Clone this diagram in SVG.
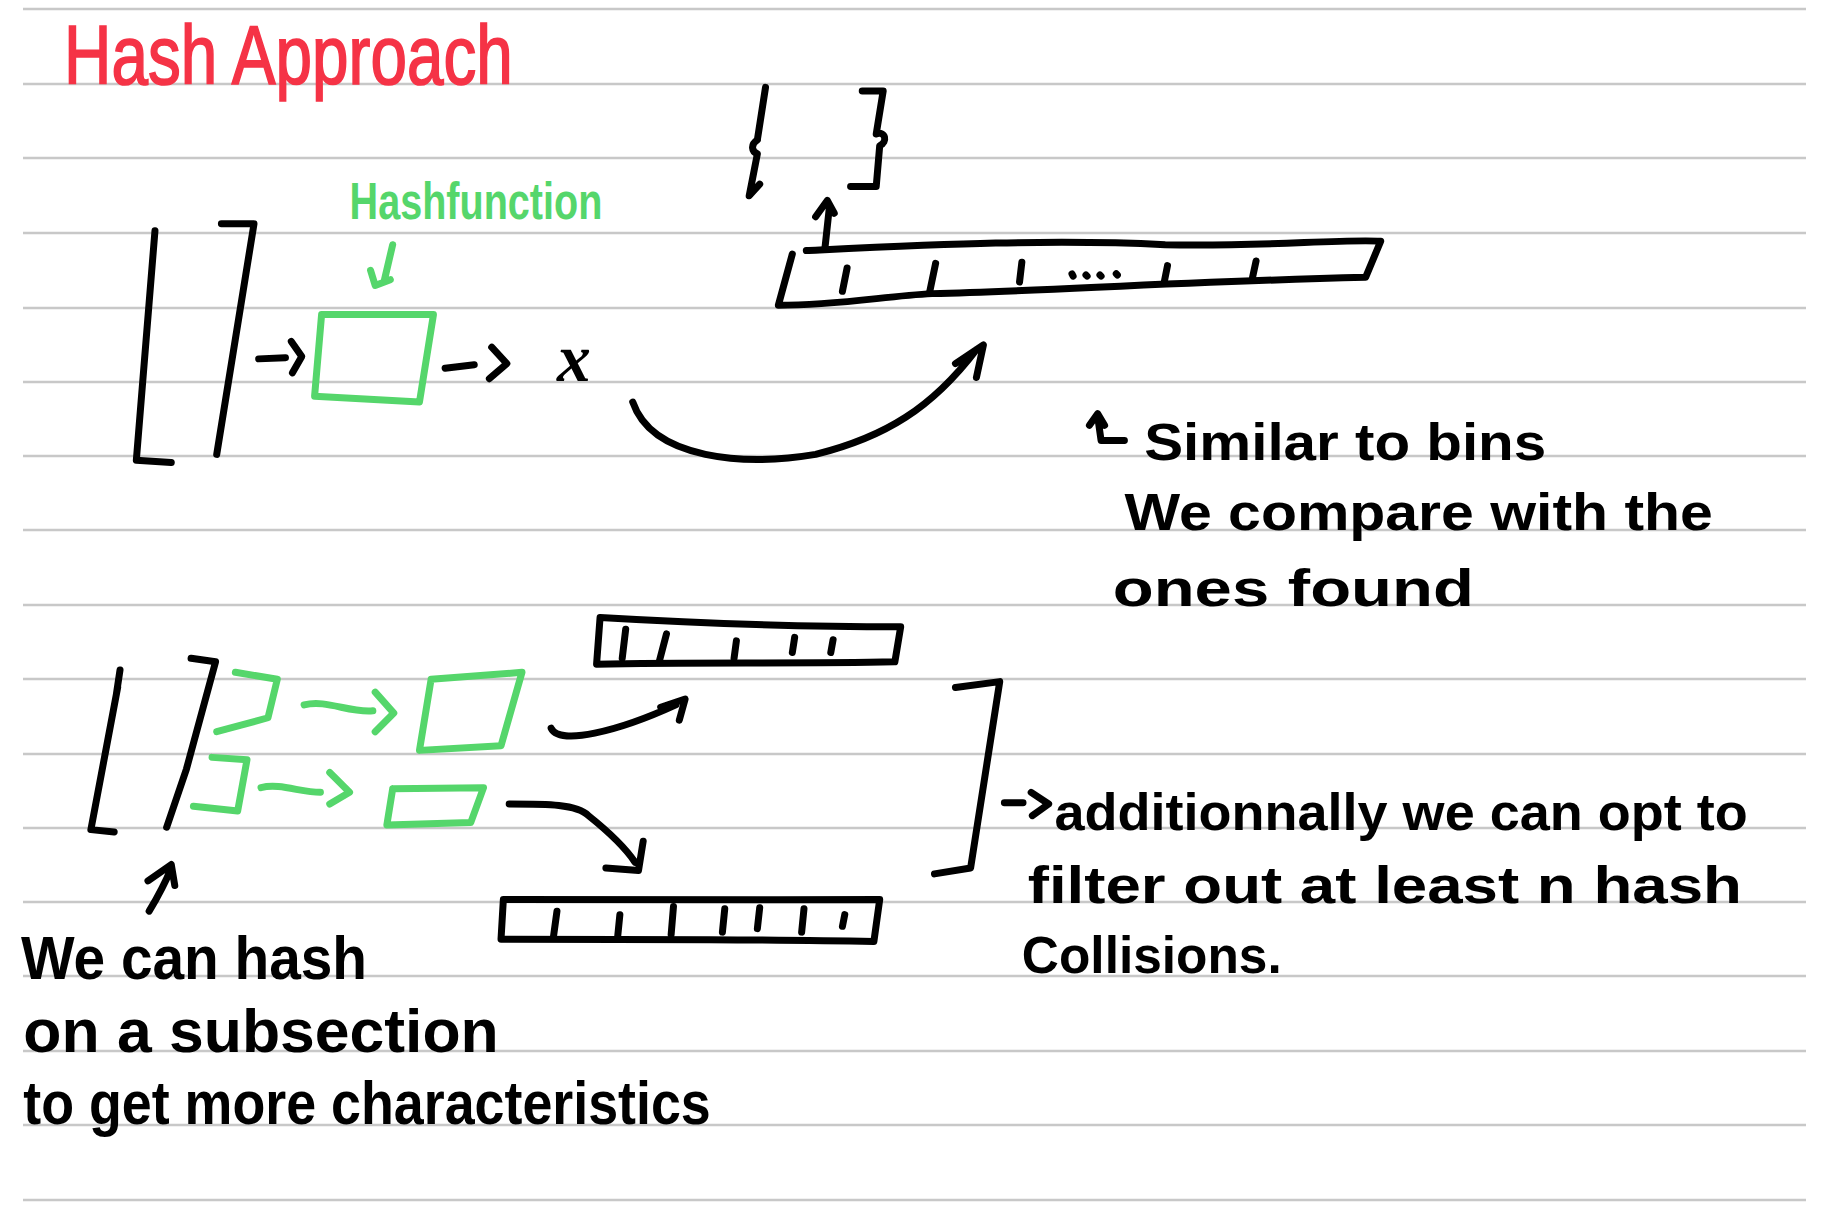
<svg xmlns="http://www.w3.org/2000/svg" width="1827" height="1231" viewBox="0 0 1827 1231">
<style>
.rule{stroke:#c8c8c8;stroke-width:2.5}
.k{fill:none;stroke:#000;stroke-width:6;stroke-linecap:round;stroke-linejoin:round}
.g{fill:none;stroke:#55d66b;stroke-width:6;stroke-linecap:round;stroke-linejoin:round}
.t{font-family:"Liberation Sans",Arial,sans-serif;font-weight:bold;fill:#000}
.tr{font-family:"Liberation Sans",Arial,sans-serif;fill:#f53346;stroke:#f53346;stroke-width:1.5}
.tg{font-family:"Liberation Sans",Arial,sans-serif;font-weight:bold;fill:#55d66b}
</style>
<rect width="1827" height="1231" fill="#fff"/>
<g id="ruled">
<line class="rule" x1="23" y1="9" x2="1806" y2="9"/>
<line class="rule" x1="23" y1="84" x2="1806" y2="84"/>
<line class="rule" x1="23" y1="158" x2="1806" y2="158"/>
<line class="rule" x1="23" y1="233" x2="1806" y2="233"/>
<line class="rule" x1="23" y1="308" x2="1806" y2="308"/>
<line class="rule" x1="23" y1="382" x2="1806" y2="382"/>
<line class="rule" x1="23" y1="456" x2="1806" y2="456"/>
<line class="rule" x1="23" y1="530" x2="1806" y2="530"/>
<line class="rule" x1="23" y1="605" x2="1806" y2="605"/>
<line class="rule" x1="23" y1="679" x2="1806" y2="679"/>
<line class="rule" x1="23" y1="754" x2="1806" y2="754"/>
<line class="rule" x1="23" y1="828" x2="1806" y2="828"/>
<line class="rule" x1="23" y1="902" x2="1806" y2="902"/>
<line class="rule" x1="23" y1="976" x2="1806" y2="976"/>
<line class="rule" x1="23" y1="1051" x2="1806" y2="1051"/>
<line class="rule" x1="23" y1="1125" x2="1806" y2="1125"/>
<line class="rule" x1="23" y1="1200" x2="1806" y2="1200"/>
</g>
<g transform="scale(1.16518)">
<g id="title"><text class="tr" x="55" y="72" font-size="72" textLength="385" lengthAdjust="spacingAndGlyphs">Hash Approach</text></g>

<g id="input-array">
<path class="k" d="M133,198 L117,395 L147,397"/>
<path class="k" d="M190,192 L218,192 L186,390"/>
</g>
<g id="hash-function">
<text class="tg" x="300" y="188" font-size="44" textLength="217" lengthAdjust="spacingAndGlyphs">Hashfunction</text>
<path class="g" d="M337,210 L330,240 M318,232 L322,245 L335,240"/>
<path class="g" d="M276,270 L372,270 L360,345 L270,340 L276,270"/>
</g>
<g id="hash-x"><text x="478" y="327" font-size="58" font-weight="bold" font-family="Liberation Serif,serif" font-style="italic" fill="#000">x</text></g>

<g id="bins">
<path class="k" d="M692,215 C800,210 900,205 1000,210 C1080,212 1150,205 1185,207 L1172,238 C1000,242 900,250 800,252 C760,254 720,262 668,262 L680,218"/>
<path class="k" d="M727,230 L723,250 M803,226 L798,250 M877,225 L875,242 M1002,228 L999,243 M1078,224 L1075,238"/>
<path class="k" d="M920,235 L921,237 M932,236 L933,237 M944,236 L945,237 M958,235 L959,236"/>
<path class="k" d="M708,213 L712,176 M700,186 L710,172 L716,183"/>
</g>
<g id="bin-content">
<path class="k" d="M657,75 L650,120 M650,120 C644,124 645,130 650,132 L643,168 L652,158"/>
<path class="k" d="M740,78 L758,78 L752,115 C760,112 762,122 755,125 L752,160 L730,160"/>
</g>

<g id="bins-note">
<path class="k" d="M935,365 L942,355 L948,365 M942,357 L945,378 L965,378"/>
<text class="t" x="982" y="395" font-size="44" textLength="345" lengthAdjust="spacingAndGlyphs">Similar to bins</text>
<text class="t" x="965" y="455" font-size="44" textLength="505" lengthAdjust="spacingAndGlyphs">We compare with the</text>
<text class="t" x="955" y="520" font-size="44" textLength="310" lengthAdjust="spacingAndGlyphs">ones found</text>
</g>

<g id="sub-array">
<path class="k" d="M103,575 L100,595 M101,590 L78,712 L98,714"/>
<path class="k" d="M164,565 L185,568 L160,660 L143,710"/>
</g>
<g id="subsections">
<path class="g" d="M202,577 L238,583 L230,616 L186,628"/>
<path class="g" d="M182,650 L212,652 L204,696 L166,692"/>
</g>
<g id="hash-box-1"><path class="g" d="M370,583 L448,577 L430,640 L360,644 L370,583"/></g>
<g id="hash-box-2"><path class="g" d="M337,677 L415,676 L404,706 L332,708 L337,677"/></g>

<g id="bins-1">
<path class="k" d="M515,530 C600,535 700,538 773,538 L768,568 C680,570 600,568 512,570 Z"/>
<path class="k" d="M537,540 L534,565 M572,544 L566,567 M632,550 L630,565 M682,547 L680,560 M715,549 L713,560"/>
</g>
<g id="bins-2">
<path class="k" d="M432,772 C560,771 650,773 755,772 L750,808 C650,806 560,806 430,806 Z"/>
<path class="k" d="M478,782 L475,804 M532,785 L530,805 M578,778 L576,802 M622,780 L620,800 M652,779 L650,797 M690,780 L688,800 M725,785 L723,795"/>
</g>

<g id="connectors">
<path class="k" d="M222,308 L245,307 M250,293 L259,306 L251,320" stroke-width="5"/>
<path class="k" d="M382,316 L407,313 M422,298 L435,312 L420,325" stroke-width="5"/>
<path class="k" d="M543,345 C560,395 640,400 700,390 C760,375 800,350 838,300 M820,312 L844,296 L838,324"/>
<path class="g" d="M261,605 C280,600 300,612 320,610 M322,594 L338,612 L322,628"/>
<path class="g" d="M224,676 C240,672 258,680 275,680 M283,663 L300,680 L283,690"/>
<path class="k" d="M473,625 C480,640 530,628 580,605 M567,607 L588,600 L583,618"/>
<path class="k" d="M437,690 C470,690 495,690 505,700 C520,712 535,725 545,740 M520,745 L548,747 L552,722"/>
<path class="k" d="M128,782 C134,772 140,762 147,745 M127,756 L147,742 L150,760"/>
</g>

<g id="combine">
<path class="k" d="M820,590 L858,585 L833,745 L802,750"/>
<path class="k" d="M862,689 L878,689 M885,680 L900,690 L886,700"/>
<text class="t" x="905" y="712" font-size="44" textLength="595" lengthAdjust="spacingAndGlyphs">additionnally  we can opt to</text>
<text class="t" x="882" y="775" font-size="44" textLength="613" lengthAdjust="spacingAndGlyphs">filter out  at least  n hash</text>
<text class="t" x="877" y="835" font-size="44" textLength="223" lengthAdjust="spacingAndGlyphs">Collisions.</text>
</g>

<g id="subsection-note">
<text class="t" x="18" y="840" font-size="52" textLength="297" lengthAdjust="spacingAndGlyphs">We can hash</text>
<text class="t" x="20" y="903" font-size="52" textLength="408" lengthAdjust="spacingAndGlyphs">on a subsection</text>
<text class="t" x="20" y="965" font-size="52" textLength="590" lengthAdjust="spacingAndGlyphs">to get more characteristics</text>
</g>
</g>
</svg>
